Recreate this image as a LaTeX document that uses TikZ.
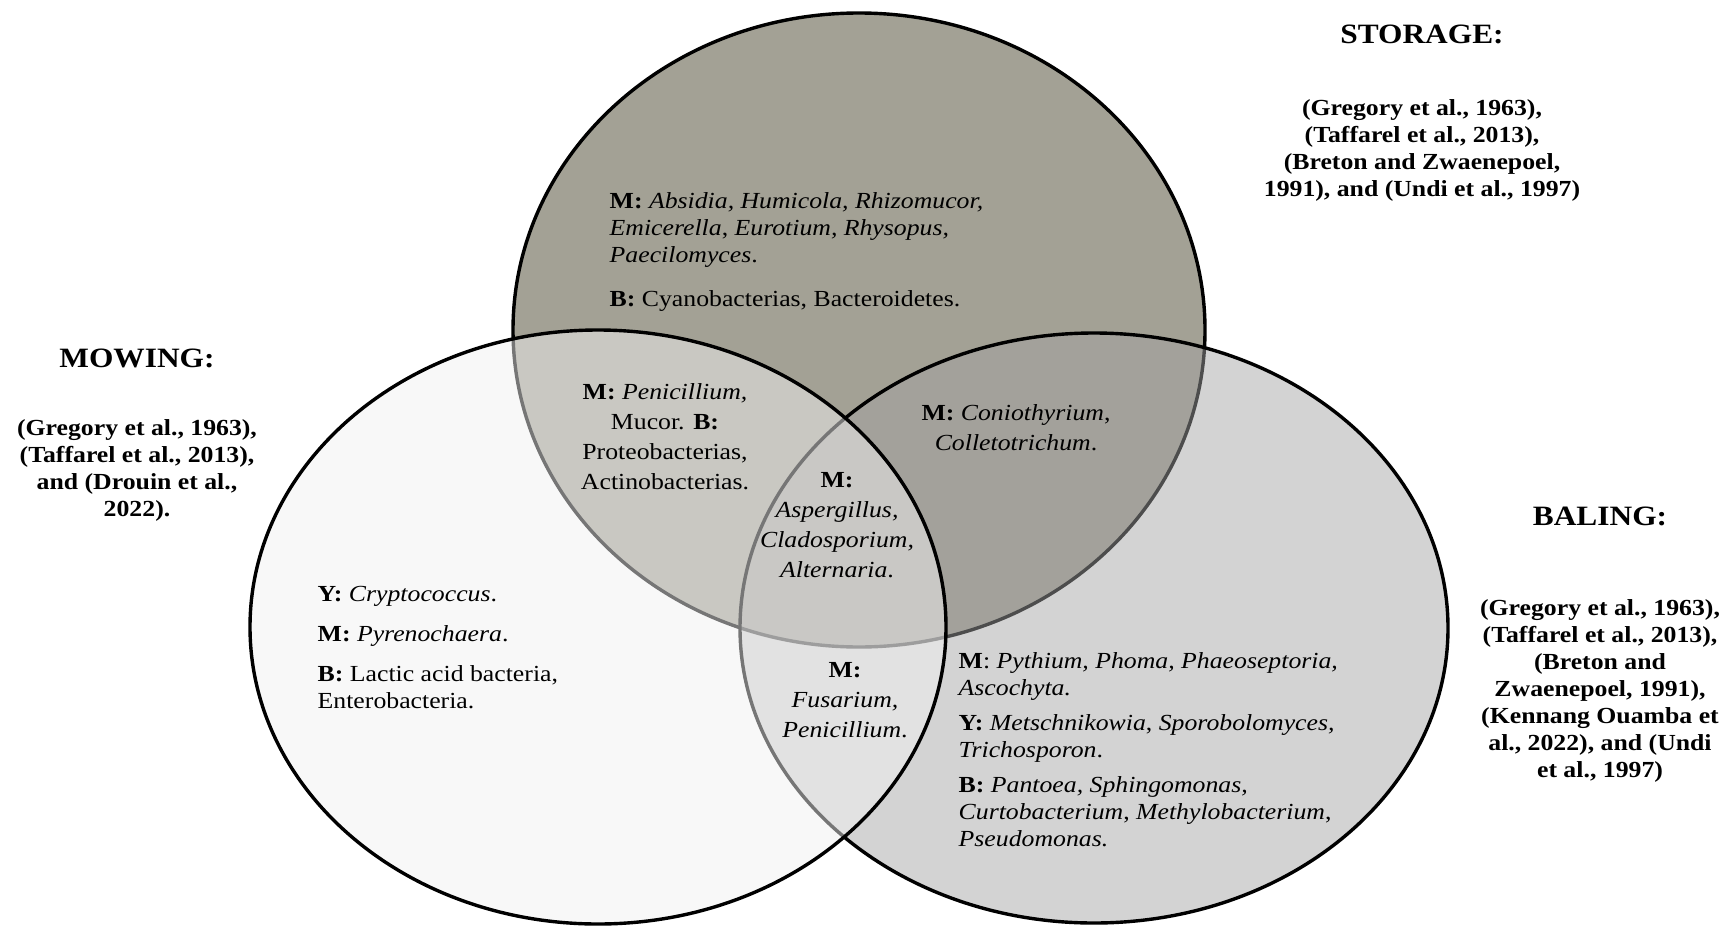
\documentclass[tikz,border=0pt]{standalone}
\usepackage{fontspec}
\setmainfont{Liberation Serif}[FakeStretch=1.12]

\definecolor{storagefill}{RGB}{163,161,149}
\definecolor{balingfill}{RGB}{163,163,163}
\definecolor{mowingfill}{RGB}{241,241,241}

\tikzset{
    settitle/.style={font=\fontsize{14}{16}\selectfont\bfseries},
    setcite/.style={align=center, font=\fontsize{11.5}{13.5}\selectfont\bfseries},
    taxa/.style={align=left, anchor=west, inner sep=0pt, font=\fontsize{11.5}{13.5}\selectfont},
    taxamid/.style={align=center, inner sep=0pt, font=\fontsize{11.5}{15}\selectfont}
}

\begin{document}
\begin{tikzpicture}[x=0.5pt, y=-0.5pt, line width=1.7pt]
    \useasboundingbox (0,0) rectangle (1728,926);
    % the three sets, storage first
    \draw[fill=storagefill] (859,330) ellipse [x radius=173pt, y radius=158.5pt];
    \draw[fill=balingfill, fill opacity=0.48] (1094,628) ellipse [x radius=177pt, y radius=147.5pt];
    \draw[fill=mowingfill, fill opacity=0.49] (598,627) ellipse [x radius=174pt, y radius=148.5pt];

    \node[taxa] (storageonly) at (608,252) {\textbf{M:} \textit{Absidia, Humicola, Rhizomucor,}\\ \textit{Emicerella}, \textit{Eurotium, Rhysopus,}\\ \textit{Paecilomyces}.\\[8.5pt] \textbf{B:} Cyanobacterias, Bacteroidetes.};
    \node[taxamid] (storagemowing) at (665,437) {\textbf{M:} \textit{Penicillium,}\\ Mucor. \textbf{B:}\\ Proteobacterias,\\ Actinobacterias.};
    \node[taxamid] (storagebaling) at (1016,428) {\textbf{M:} \textit{Coniothyrium},\\ \textit{Colletotrichum}.};
    \node[taxamid] (allthree) at (837,525) {\textbf{M:}\\ \textit{Aspergillus,}\\ \textit{Cladosporium,}\\ \textit{Alternaria}.};
    \node[taxamid] (mowingbaling) at (845,700) {\textbf{M:}\\ \textit{Fusarium,}\\ \textit{Penicillium}.};
    \node[taxa] (mowingonly) at (316,648) {\textbf{Y:} \textit{Cryptococcus}.\\[6.5pt] \textbf{M:} \textit{Pyrenochaera}.\\[6.5pt] \textbf{B:} Lactic acid bacteria,\\ Enterobacteria.};
    \node[taxa] (balingonly) at (957,750) {\textbf{M}: \textit{Pythium, Phoma, Phaeoseptoria,}\\ \textit{Ascochyta.}\\[4pt] \textbf{Y:} \textit{Metschnikowia}, \textit{Sporobolomyces,}\\ \textit{Trichosporon}.\\[4pt] \textbf{B:} \textit{Pantoea, Sphingomonas,}\\ \textit{Curtobacterium}, \textit{Methylobacterium},\\ \textit{Pseudomonas.}};

    % titles and sources
    \node[settitle] (storage) at (1422,34) {STORAGE:};
    \node[setcite] (storagecite) at (1422,150) {(Gregory et al., 1963),\\ (Taffarel et al., 2013),\\ (Breton and Zwaenepoel,\\ 1991), and (Undi et al., 1997)};
    \node[settitle] (mowing) at (137,358) {MOWING:};
    \node[setcite] (mowingcite) at (137,470) {(Gregory et al., 1963),\\ (Taffarel et al., 2013),\\ and (Drouin et al.,\\ 2022).};
    \node[settitle] (baling) at (1600,516) {BALING:};
    \node[setcite] (balingcite) at (1600,691) {(Gregory et al., 1963),\\ (Taffarel et al., 2013),\\ (Breton and\\ Zwaenepoel, 1991),\\ (Kennang Ouamba et\\ al., 2022), and (Undi\\ et al., 1997)};
\end{tikzpicture}
\end{document}
